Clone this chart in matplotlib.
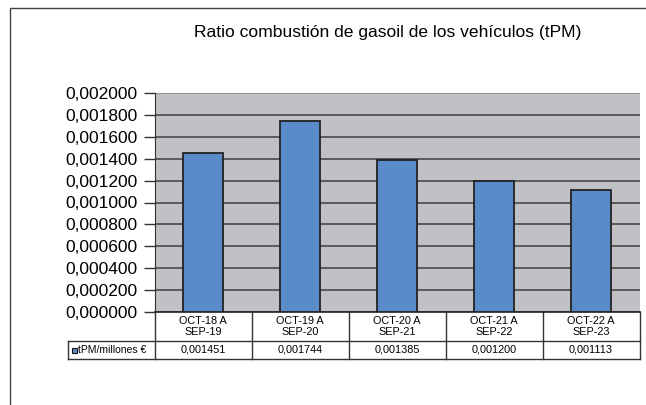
import matplotlib.pyplot as plt
from matplotlib.patches import Rectangle
from matplotlib.ticker import FuncFormatter

plt.rcParams['font.family'] = ['Liberation Sans', 'DejaVu Sans']

categories = ["OCT-18 A\nSEP-19", "OCT-19 A\nSEP-20", "OCT-20 A\nSEP-21",
              "OCT-21 A\nSEP-22", "OCT-22 A\nSEP-23"]
values = [0.001451, 0.001744, 0.001385, 0.001200, 0.001113]
series_name = "tPM/millones €"
title = "Ratio combustión de gasoil de los vehículos (tPM)"

bar_color = "#588BC8"
bg = "#C0C1C5"
W, H = 646, 405

fig = plt.figure(figsize=(W / 100, H / 100), dpi=100)
# plot area in pixels
left, right, top, bottom = 154.5, 639.5, 93, 312
ax = fig.add_axes([left / W, 1 - bottom / H, (right - left) / W, (bottom - top) / H])
ax.set_facecolor(bg)

x = range(len(values))
ax.bar(x, values, width=0.42, color=bar_color, edgecolor="#222222", linewidth=1.3, zorder=3)

ax.set_xlim(-0.5, len(values) - 0.5)
ax.set_ylim(0, 0.002)
ax.set_yticks([i * 0.0002 for i in range(11)])
ax.yaxis.set_major_formatter(FuncFormatter(lambda v, p: ("%.6f" % v).replace(".", ",")))
ax.tick_params(axis="y", labelsize=12.5, length=8, width=1, color="#333333", pad=4)
ax.set_xticks([])
ax.grid(axis="y", color="#4a4a4a", linewidth=1.2, zorder=1)
ax.get_ygridlines()[-1].set_color("#8a8a8a")
for s in ["top", "right"]:
    ax.spines[s].set_visible(False)
ax.spines["left"].set_color("#333333")
ax.spines["bottom"].set_color("#222222")
ax.spines["bottom"].set_linewidth(1.2)

fig.text(388 / W, 1 - 33 / H, title, ha="center", va="center", fontsize=12.6)

# data table below the plot
ph = bottom - top
y_cat = -(341 - bottom) / ph
y_dat = -(359 - bottom) / ph
x_lab = (68 - left) / (right - left)
n = len(values)
lc = "#333333"
kw = dict(transform=ax.transAxes, clip_on=False, color=lc, linewidth=1)
ax.plot([0, 0], [0, y_dat], **kw)
for i in range(1, n + 1):
    ax.plot([i / n, i / n], [0, y_dat], **kw)
ax.plot([x_lab, x_lab], [y_cat, y_dat], **kw)
ax.plot([x_lab, 1], [y_cat, y_cat], **kw)
ax.plot([x_lab, 1], [y_dat, y_dat], **kw)
for i in range(n):
    xc = (i + 0.5) / n
    ax.text(xc, (0 + y_cat) / 2, categories[i], transform=ax.transAxes, ha="center",
            va="center", fontsize=7.8, linespacing=1.1)
    ax.text(xc, (y_cat + y_dat) / 2, ("%.6f" % values[i]).replace(".", ","),
            transform=ax.transAxes, ha="center", va="center", fontsize=7.8)
ym = (y_cat + y_dat) / 2
sq = 5 / (right - left)
sqh = 5 / ph
ax.add_patch(Rectangle((x_lab + 4 / (right - left), ym - sqh / 2), sq, sqh,
                       transform=ax.transAxes, clip_on=False, facecolor=bar_color,
                       edgecolor="#111111", linewidth=0.8))
ax.text(x_lab + 10 / (right - left), ym, series_name, transform=ax.transAxes,
        ha="left", va="center", fontsize=7.5)

# outer chart frame
fig.add_artist(Rectangle((10 / W, -0.1), 1.2, 1 - 8 / H + 0.1, transform=fig.transFigure,
                         fill=False, edgecolor="#444444", linewidth=1))

fig.savefig("out.png", dpi=100)
